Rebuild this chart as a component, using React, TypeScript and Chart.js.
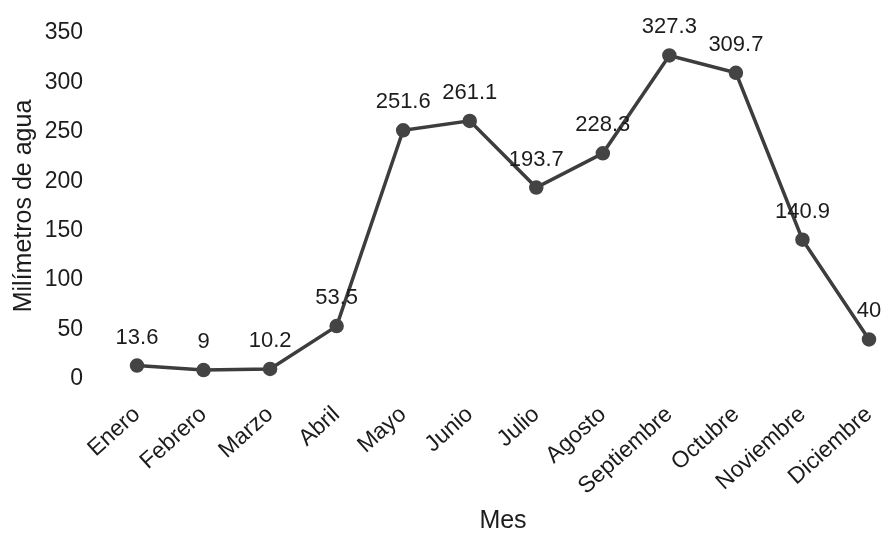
import React, { useEffect, useRef } from "react";
import { Chart, registerables } from "chart.js";

Chart.register(...registerables);

const months = [
  "Enero", "Febrero", "Marzo", "Abril", "Mayo", "Junio",
  "Julio", "Agosto", "Septiembre", "Octubre", "Noviembre", "Diciembre",
];
const rainfall = [13.6, 9, 10.2, 53.5, 251.6, 261.1, 193.7, 228.3, 327.3, 309.7, 140.9, 40];
const yMin = 0;
const yMax = 350;
const yStep = 50;

const FONT = "'Liberation Sans', Arial, Helvetica, sans-serif";
const INK = "#1c1c1c";
const LINE = "#3d3d3d";

// Writes each month's value just above its point.
const valueLabels = {
  id: "valueLabels",
  afterDatasetsDraw(chart: any) {
    const ctx = chart.ctx;
    const meta = chart.getDatasetMeta(0);
    ctx.save();
    ctx.font = `22px ${FONT}`;
    ctx.fillStyle = INK;
    ctx.textAlign = "center";
    ctx.textBaseline = "alphabetic";
    meta.data.forEach((pt: any, i: number) => {
      const v = chart.data.datasets[0].data[i];
      ctx.fillText(String(v), pt.x, pt.y - 22);
    });
    ctx.restore();
  },
};

export default function App() {
  const ref = useRef<HTMLCanvasElement | null>(null);

  useEffect(() => {
    if (!ref.current) return;
    const chart = new Chart(ref.current, {
      type: "line",
      data: {
        labels: months,
        datasets: [
          {
            data: rainfall,
            borderColor: LINE,
            backgroundColor: LINE,
            borderWidth: 3.5,
            pointRadius: 5.5,
            pointBackgroundColor: "#444",
            pointBorderColor: "#444",
            tension: 0,
          },
        ],
      },
      options: {
        responsive: false,
        animation: false,
        layout: { padding: { left: 5, right: 16, top: 33, bottom: 0 } },
        plugins: {
          legend: { display: false },
          tooltip: { enabled: false },
        },
        scales: {
          x: {
            offset: false,
            grid: { display: false, drawTicks: false },
            border: { display: false },
            ticks: {
              color: INK,
              font: { family: FONT, size: 23 },
              minRotation: 42,
              maxRotation: 42,
              padding: 22,
              autoSkip: false,
            },
            title: {
              display: true,
              text: "Mes",
              color: INK,
              font: { family: FONT, size: 25 },
              padding: { top: 3, bottom: -3 },
            },
            afterFit(scale: any) {
              scale.height = 154;
              scale.paddingLeft = 0;
              scale.paddingRight = 0;
            },
          },
          y: {
            min: yMin,
            max: yMax,
            grid: { display: false, drawTicks: false },
            border: { display: false },
            ticks: {
              stepSize: yStep,
              color: INK,
              font: { family: FONT, size: 23 },
              padding: 54,
            },
            title: {
              display: true,
              text: "Milímetros de agua",
              color: INK,
              font: { family: FONT, size: 25 },
              padding: { top: 4, bottom: 4 },
            },
            afterFit(scale: any) {
              scale.width = 132;
              scale.paddingTop = 0;
              scale.paddingBottom = 0;
            },
          },
        },
      },
      plugins: [valueLabels],
    });
    return () => chart.destroy();
  }, []);

  return (
    <div style={{ position: "absolute", left: 0, top: 0, width: 885, height: 533, background: "#fff" }}>
      <canvas ref={ref} width={885} height={533} />
    </div>
  );
}
